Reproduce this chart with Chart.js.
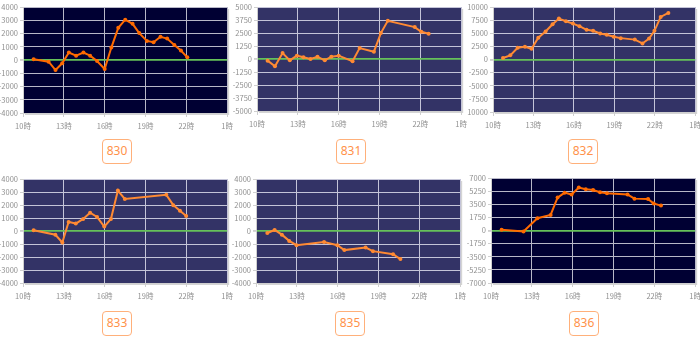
<!DOCTYPE html>
<html><head><meta charset="utf-8">
<script src="https://cdn.jsdelivr.net/npm/chart.js@4/dist/chart.umd.min.js"></script>
<style>
html,body{margin:0;padding:0;background:#fff;width:700px;height:342px;overflow:hidden;position:relative;}
canvas{position:absolute;}
.lab{position:absolute;box-sizing:border-box;border:1.5px solid #ffb07a;border-radius:4px;color:#ff924a;
font-family:"Noto Sans","DejaVu Sans",sans-serif;font-size:12px;text-align:center;background:#fff;}
</style></head><body>
<script>
// ---- data (hours of day; 25 = 1時 next day) ----
const xTicksLabel = ["10時","13時","16時","19時","22時","1時"];
const names = ["830","831","832","833","835","836"];

const t830 = [10.78,11.88,12.39,12.88,13.37,13.9,14.44,14.93,15.44,16.0,16.49,17.0,17.51,18.05,18.54,19.1,19.59,20.1,20.59,21.12,21.6,22.07];
const v830 = [50,-130,-760,-250,560,330,560,330,-80,-680,940,2430,3040,2730,2030,1440,1340,1750,1620,1140,710,200];

const t831 = [10.78,11.32,11.88,12.41,12.93,13.41,13.93,14.44,14.98,15.46,16.0,17.02,17.54,18.59,19.1,19.61,21.59,22.07,22.61];
const v831 = [-160,-700,575,-130,320,160,0,220,-130,220,320,-220,1050,700,2490,3670,3070,2620,2430];

const t832 = [10.74,11.28,11.83,12.37,12.86,13.36,13.9,14.42,14.89,15.41,15.93,16.42,16.94,17.43,17.95,18.44,18.96,19.48,20.52,21.09,21.58,21.98,22.44,23.01];
const v832 = [280,790,2240,2430,2050,4160,5330,6720,7790,7290,6840,6340,5650,5460,4950,4700,4320,4070,3790,3060,4000,5460,8110,8860];

const t833 = [10.78,12.38,12.89,13.35,13.88,14.42,14.93,15.44,15.97,16.46,16.97,17.48,20.53,21.04,21.53,21.99];
const v833 = [60,-290,-880,700,570,930,1410,1080,340,930,3110,2470,2780,1990,1560,1150];

const t835 = [10.83,11.37,11.9,12.44,12.98,15.0,15.98,16.49,18.05,18.59,20.07,20.61];
const v835 = [-150,80,-280,-760,-1090,-840,-1090,-1470,-1270,-1550,-1780,-2160];

const t836 = [10.78,12.39,13.41,14.38,14.89,15.41,15.92,16.45,16.96,17.5,18.01,18.52,20.03,20.54,21.54,21.95,22.49];
const v836 = [90,-130,1640,2080,4390,5050,4790,5720,5490,5400,5100,4960,4790,4250,4210,3590,3320];

const yMax = [4000,5000,10000,4000,4000,7000];
const series = [[t830,v830],[t831,v831],[t832,v832],[t833,v833],[t835,v835],[t836,v836]];

// ---- layout / style ----
const plots = [
  {l:23,r:228,t:7,b:113, box:[102,139,30,25], dark:true},
  {l:257,r:462,t:7,b:111, box:[336,139,30,25], dark:false},
  {l:493,r:696,t:7,b:112, box:[568,139,30,25], dark:false},
  {l:23,r:228,t:179,b:283, box:[102,311,30,25], dark:false},
  {l:256,r:461,t:179,b:283, box:[335,311,30,25], dark:false},
  {l:491,r:696,t:178,b:283, box:[569,311,30,25], dark:true}
];
const FONT = {family:'"Noto Sans CJK JP","Noto Sans",sans-serif', size:7.5};

const bgPlugin = {
  id:'bg',
  beforeDraw(chart, args, opts){
    const a = chart.chartArea, c = chart.ctx;
    c.save();
    c.fillStyle = '#d4d4d4';
    c.fillRect(a.left+2, a.top+2, a.right-a.left, a.bottom-a.top);
    c.fillStyle = opts.color;
    c.fillRect(a.left, a.top, a.right-a.left, a.bottom-a.top);
    c.restore();
  }
};

plots.forEach((p,i)=>{
  const padL = 26, padT = 7, padR = 10, padB = 22;
  const W = p.r - p.l + padL + padR, H = p.b - p.t + padT + padB;
  const cv = document.createElement('canvas');
  cv.width = W; cv.height = H;
  cv.style.left = (p.l - padL) + 'px';
  cv.style.top = (p.t - padT) + 'px';
  cv.style.width = W + 'px'; cv.style.height = H + 'px';
  document.body.appendChild(cv);

  const [tx, vy] = series[i];
  const lineCol = p.dark ? '#ff6a00' : '#ff8a33';
  const gridCol = p.dark ? '#b8b8c8' : '#c4c4d8';
  const m = yMax[i];

  new Chart(cv, {
    type:'line',
    data:{datasets:[{
      data: tx.map((x,k)=>({x:x, y:vy[k]})),
      borderColor: lineCol, backgroundColor: lineCol,
      borderWidth: 2, pointRadius: 2, pointHoverRadius: 2,
      pointBorderWidth: 0, tension: 0
    }]},
    options:{
      responsive:false, animation:false, devicePixelRatio:1,
      layout:{padding:{top:padT, right:padR, left:0, bottom:0}},
      plugins:{legend:{display:false}, tooltip:{enabled:false}, bg:{color: p.dark ? '#000033' : '#333366'}},
      scales:{
        x:{type:'linear', min:10, max:25,
          afterFit(s){ s.height = padB; },
          afterBuildTicks(s){ s.ticks = [10,13,16,19,22,25].map(v=>({value:v})); },
          ticks:{font:FONT, color:'#8f8f8f', padding:5, maxRotation:0, autoSkip:false,
            callback:(v)=> xTicksLabel[[10,13,16,19,22,25].indexOf(v)]},
          grid:{color:gridCol, lineWidth:1, tickLength:4, tickColor:'#cfcfcf', drawOnChartArea:true},
          border:{display:true, color:'#cfcfcf', width:1}
        },
        y:{min:-m, max:m,
          afterFit(s){ s.width = padL; },
          afterBuildTicks(s){ const a=[]; for(let k=-4;k<=4;k++) a.push({value:k*m/4}); s.ticks=a; },
          ticks:{font:FONT, color:'#8f8f8f', padding:2, autoSkip:false, callback:(v)=> String(Math.round(v))},
          grid:{color:(ctx)=> (ctx.tick && ctx.tick.value===0) ? '#66c25a' : gridCol,
                lineWidth:(ctx)=> (ctx.tick && ctx.tick.value===0) ? 1.8 : 1,
                tickLength:3, tickColor:'#cfcfcf'},
          border:{display:true, color:'#cfcfcf', width:1}
        }
      }
    },
    plugins:[bgPlugin]
  });

  const b = document.createElement('div');
  b.className = 'lab';
  b.style.left = p.box[0]+'px'; b.style.top = p.box[1]+'px';
  b.style.width = p.box[2]+'px'; b.style.height = p.box[3]+'px';
  b.style.lineHeight = (p.box[3]-3)+'px';
  b.textContent = names[i];
  document.body.appendChild(b);
});
</script>
</body></html>
